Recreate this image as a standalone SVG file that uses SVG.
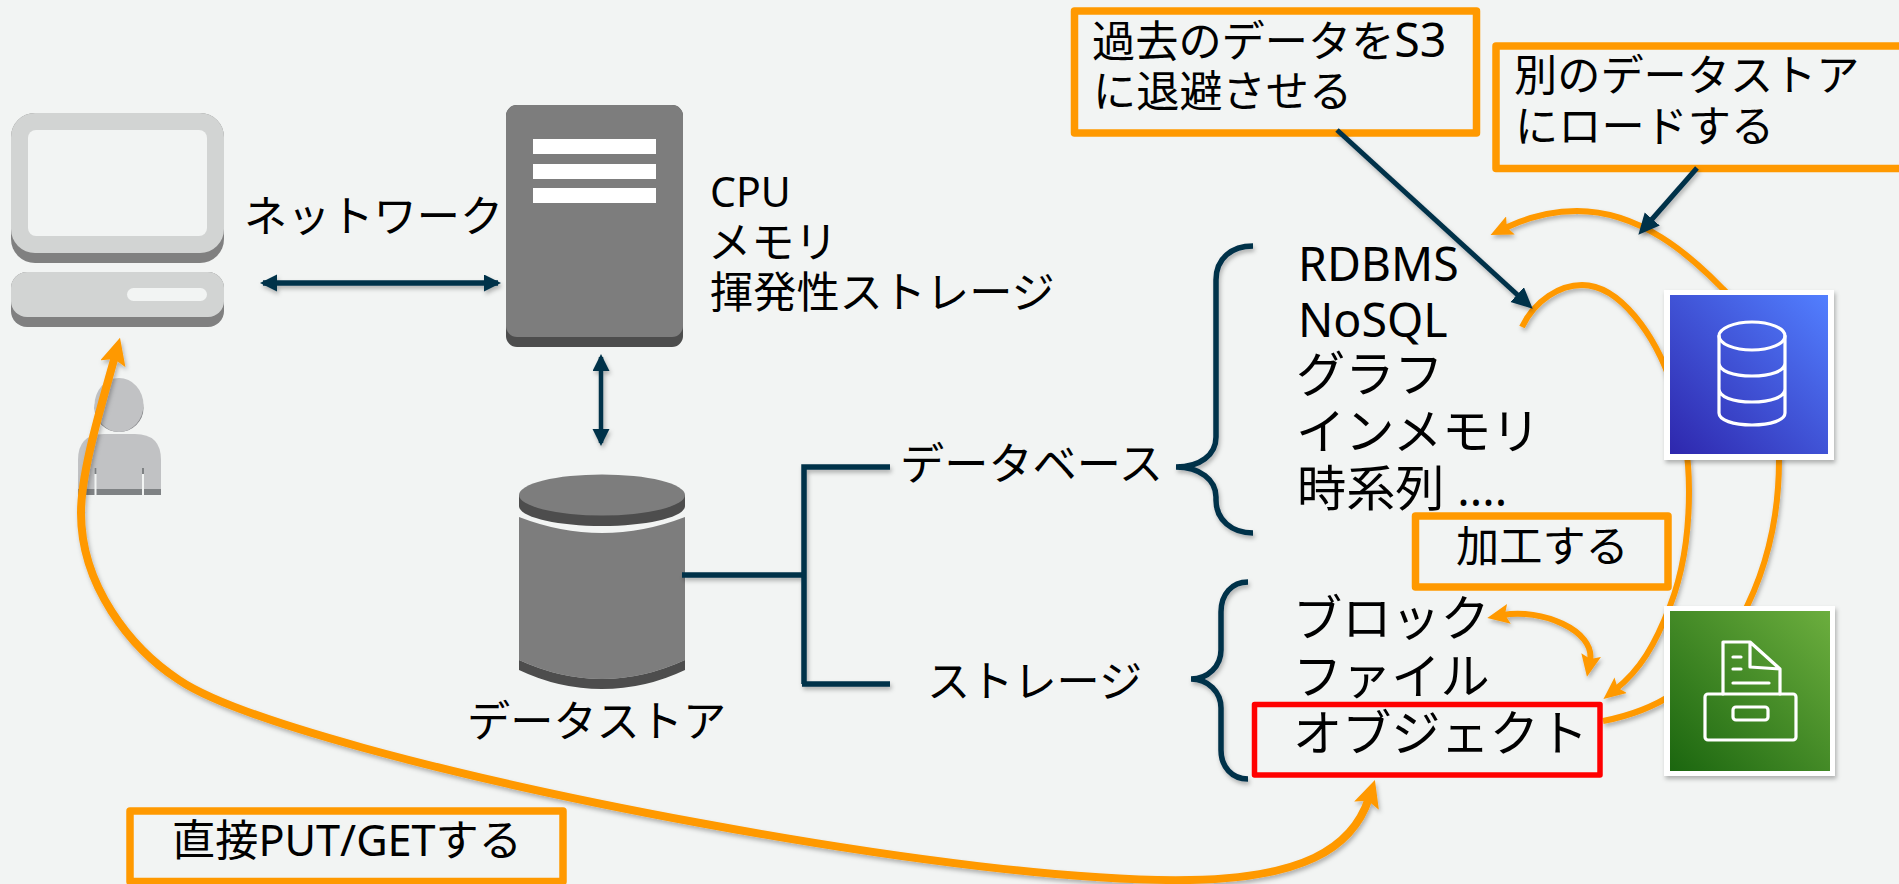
<svg xmlns="http://www.w3.org/2000/svg" width="1899" height="884" viewBox="0 0 1899 884">
<style>
.t{font-family:"Noto Sans","Noto Sans CJK JP",sans-serif;fill:#000;font-size:43.2px}
.b{font-size:49.2px}
.l{font-size:41px}
.lb{font-size:46.5px}
.box{fill:none;stroke:#ff9900;stroke-width:7.5;stroke-linejoin:round}
.nv{fill:none;stroke:#03304a;stroke-width:5.500;filter:url(#sh)}
.or{fill:none;stroke:#ff9900;stroke-width:6;filter:url(#sh)}
.face{fill:#7d7d7d}.dark{fill:#4d4d4d}
.lg{fill:#d2d4d3}.lgd{fill:#808080}
.ic{fill:none;stroke:#fff;stroke-width:3.2;stroke-linejoin:round;stroke-linecap:round}
</style>
<defs>
<filter id="sh" filterUnits="userSpaceOnUse" x="0" y="0" width="1899" height="884"><feDropShadow dx="1.5" dy="3" stdDeviation="2" flood-color="#000" flood-opacity=".28"/></filter>
<linearGradient id="gb" x1="0" y1="1" x2="1" y2="0"><stop offset="0" stop-color="#2e27ad"/><stop offset="1" stop-color="#527fff"/></linearGradient>
<linearGradient id="gg" x1="0" y1="1" x2="1" y2="0"><stop offset="0" stop-color="#1b660f"/><stop offset="1" stop-color="#6cae3e"/></linearGradient>
<marker id="ob" markerUnits="userSpaceOnUse" markerWidth="30" markerHeight="28" refX="8" refY="13" orient="auto-start-reverse"><path d="M27 13L0 0L5 13L0 26Z" fill="#ff9900"/></marker>
<marker id="os" markerUnits="userSpaceOnUse" markerWidth="24" markerHeight="20" refX="6" refY="10" orient="auto-start-reverse"><path d="M22 10L0 0L4 10L0 20Z" fill="#ff9900"/></marker>
<marker id="na" markerUnits="userSpaceOnUse" markerWidth="22" markerHeight="20" refX="14" refY="8.500" orient="auto-start-reverse"><path d="M17 8.500L0 0V17Z" fill="#03304a"/></marker>
<marker id="nb" markerUnits="userSpaceOnUse" markerWidth="24" markerHeight="22" refX="14" refY="10" orient="auto"><path d="M21 10L0 0V20Z" fill="#03304a"/></marker>
</defs>
<rect width="1899" height="884" fill="#f2f4f3"/>

<g id="desktop">
<rect class="lgd" x="11" y="113" width="213" height="150" rx="24"/>
<rect class="lg" x="11" y="113" width="213" height="140" rx="24"/>
<rect x="28" y="130" width="179" height="106" rx="8" fill="#f2f4f3"/>
<rect class="lgd" x="11" y="272" width="213" height="55" rx="16"/>
<rect class="lg" x="11" y="272" width="213" height="45" rx="16"/>
<rect x="127" y="288" width="80" height="13" rx="6.5" fill="#f2f4f3"/>
</g>
<g id="user">
<ellipse cx="119" cy="408" rx="24.500" ry="24" fill="#808285"/>
<ellipse cx="119" cy="405" rx="24.500" ry="27" fill="#c1c2c4"/>
<path d="M78 495V460Q78 434 104 434H135Q161 434 161 460V495Z" fill="#c1c2c4"/>
<rect x="78" y="489" width="83" height="6" fill="#7f8284"/>
<path d="M95.500 468V495M143 468V495" stroke="#f2f4f3" stroke-width="2"/>
<path d="M95.500 468V474M143 468V474" stroke="#7f8284" stroke-width="2"/>
</g>
<g id="server">
<rect class="dark" x="506" y="105" width="177" height="242" rx="11"/>
<rect class="face" x="506" y="105" width="177" height="232" rx="11"/>
<rect x="533" y="139" width="123" height="15" fill="#fff"/>
<rect x="533" y="164" width="123" height="15" fill="#fff"/>
<rect x="533" y="188" width="123" height="15" fill="#fff"/>
</g>
<g id="datastore">
<path class="face" d="M519 517Q602 549 685 517V660Q602 698 519 660Z"/>
<path class="dark" d="M519 660Q602 698 685 660V670Q645 689 602 689Q559 689 519 670Z"/>
<path class="dark" d="M519 495H685V506C685 517 648 526 602 526C556 526 519 517 519 506Z"/>
<ellipse class="face" cx="602" cy="495" rx="83" ry="20.500"/>
</g>

<g id="callout-process">
<rect class="box" x="1415.500" y="516" width="252.500" height="71"/>
<text class="t" x="1456" y="562">加工する</text>
</g>
<g id="callout-archive">
<rect class="box" x="1074.500" y="11" width="402" height="122"/>
<text class="t" x="1092" y="57">過去のデータを<tspan class="lb">S3</tspan></text>
<text class="t" x="1093" y="107">に退避させる</text>
</g>
<g id="callout-load">
<rect class="box" x="1496" y="46" width="410" height="122.500"/>
<text class="t" x="1514" y="91">別のデータストア</text>
<text class="t" x="1515" y="142">にロードする</text>
</g>
<g id="callout-direct">
<rect class="box" x="130" y="811" width="433" height="70.500"/>
<text class="t" x="172" y="856">直接PUT/GETする</text>
</g>

<g id="connectors">
<path class="nv" d="M263 283H498" marker-start="url(#na)" marker-end="url(#na)"/>
<path class="nv" d="M601 357V443" style="stroke-width:4.500" marker-start="url(#na)" marker-end="url(#na)"/>
<path class="nv" d="M682 575H804M890 467H804V684M802 684H890" style="stroke-linejoin:miter"/>
<path class="nv" d="M1253 246C1232 246 1216 258 1216 280V437C1216 455 1200 467 1176 467C1200 467 1216 480 1216 497V500C1216 520 1232 533 1253 533" style="stroke-linecap:butt"/>
<path class="nv" d="M1248 582C1232 582 1221 594 1221 612V650C1221 666 1208 679 1191 679C1208 679 1221 692 1221 708V750C1221 767 1232 779 1248 779"/>
<path class="or" d="M115 356C103 400 81 470 81 513C81 585 130 648 179 680C235 718 440 775 700 823C900 860 1080 882 1190 880C1300 878 1352 850 1369 798" style="stroke-width:8" marker-start="url(#ob)" marker-end="url(#ob)"/>
<path class="or" d="M1603 721C1650 712 1700 690 1740 620C1770 565 1779 510 1779 460C1779 390 1765 330 1723 289C1690 255 1640 211 1577 211C1555 211 1530 216 1505 228" marker-end="url(#os)"/>
<path class="or" d="M1522 327C1535 300 1560 285 1582 285C1620 285 1655 335 1672 385C1685 425 1689 460 1689 491C1689 530 1684 570 1670 606C1655 645 1640 670 1616 689" marker-end="url(#os)"/>
<path class="or" d="M1503 615C1540 608 1596 630 1590 661" marker-start="url(#os)" marker-end="url(#os)"/>
<path class="nv" d="M1337 130L1527.500 304" style="stroke-width:5" marker-end="url(#nb)"/>
<path class="nv" d="M1697 168L1643 229.500" style="stroke-width:5" marker-end="url(#nb)"/>
</g>

<g id="rds-icon">
<rect x="1664" y="290" width="170" height="170" fill="#fff" filter="url(#sh)"/>
<rect x="1670" y="295" width="158" height="159" fill="url(#gb)"/>
<ellipse class="ic" cx="1752" cy="336" rx="33" ry="14"/>
<path class="ic" d="M1719 336V413C1719 420 1733 425 1752 425C1771 425 1785 420 1785 413V336M1719 363C1719 371 1733 376 1752 376C1771 376 1785 371 1785 363M1719 389C1719 397 1733 402 1752 402C1771 402 1785 397 1785 389"/>
</g>
<g id="s3-icon">
<rect x="1664" y="606" width="171" height="170" fill="#fff" filter="url(#sh)"/>
<rect x="1670" y="611" width="160" height="160" fill="url(#gg)"/>
<path class="ic" d="M1723 694V642H1750L1780 669V694M1750 642V667L1780 669M1733 657H1741M1733 669H1741M1733 683H1769"/>
<rect class="ic" x="1705" y="694" width="91" height="46" rx="3"/>
<rect class="ic" x="1733" y="707" width="35" height="13" rx="3"/>
</g>

<g id="label-network"><text class="t" x="244" y="232">ネットワーク</text></g>
<g id="label-server">
<text class="t l" x="710" y="207">CPU</text>
<text class="t" x="708" y="258">メモリ</text>
<text class="t" x="710" y="308">揮発性ストレージ</text>
</g>
<g id="label-datastore"><text class="t" x="467" y="737">データストア</text></g>
<g id="label-database"><text class="t" x="900" y="480" style="font-size:44.200px">データベース</text></g>
<g id="label-storage"><text class="t" x="927" y="697">ストレージ</text></g>
<g id="list-database">
<text class="t lb" x="1298" y="281">RDBMS</text>
<text class="t lb" x="1298" y="337">NoSQL</text>
<text class="t b" x="1296" y="392">グラフ</text>
<text class="t b" x="1296" y="449">インメモリ</text>
<text class="t b" x="1297" y="506">時系列 <tspan class="lb">....</tspan></text>
</g>
<g id="list-storage">
<text class="t b" x="1293" y="636">ブロック</text>
<text class="t b" x="1293" y="694">ファイル</text>
<text class="t b" x="1293" y="751">オブジェクト</text>
<rect x="1254.500" y="704.500" width="345.500" height="70.500" fill="none" stroke="#ff0000" stroke-width="5.500" stroke-linejoin="round"/>
</g>
</svg>
